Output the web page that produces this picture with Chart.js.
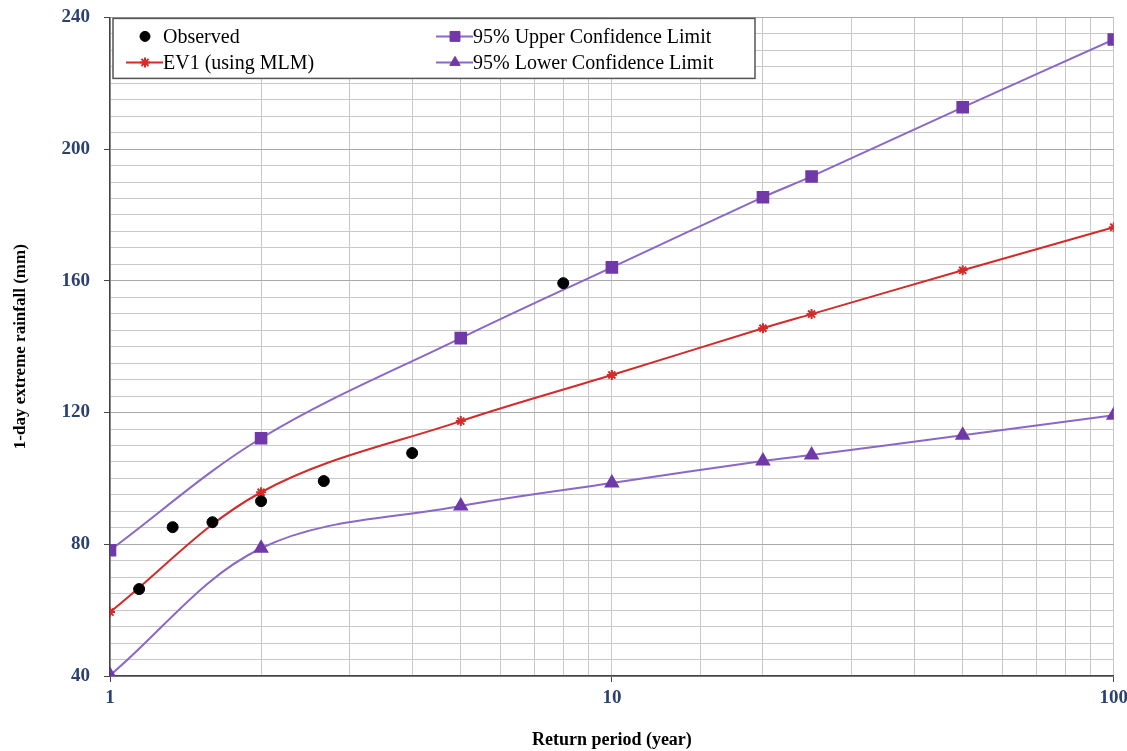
<!DOCTYPE html>
<html>
<head>
<meta charset="utf-8">
<script src="https://cdn.jsdelivr.net/npm/chart.js@4"></script>
<style>
    html, body { margin: 0; padding: 0; background: #fff; overflow: hidden; }
    /* slightly oversized so the plot area lands where Excel put it */
    #wrap { width: 1133px; height: 759px; margin-top: -8px; }
</style>
</head>
<body>
<div id="wrap"><canvas id="chart"></canvas></div>
<script>
// return periods (years) for the fitted curves
const returnPeriods = [1, 2, 5, 10, 20, 25, 50, 100];
const ev1Values = [59.4, 95.8, 117.4, 131.4, 145.6, 149.9, 163.2, 176.3];
const upperValues = [78.2, 112.2, 142.6, 164.1, 185.4, 191.7, 212.7, 233.3];
const lowerValues = [40.2, 78.8, 91.6, 98.6, 105.3, 107.1, 113.1, 119.2];

// observed annual maxima with plotting positions
const observedPeriods = [8, 4, 2.667, 2, 1.6, 1.333, 1.143];
const observedValues = [159.3, 107.7, 99.2, 93.1, 86.7, 85.2, 66.4];

const xLabels = [1, 10, 100];
const yLabels = [40, 80, 120, 160, 200, 240];

const PURPLE_LINE = "#8A68C8";
const PURPLE_MARK = "#7038A8";
const RED = "#D42A2A";
const TICK_BLUE = "#2B4170";
const SERIF = "'Liberation Serif', 'Times New Roman', serif";

const toPoints = (xs, ys) => xs.map((x, i) => ({ x, y: ys[i] }));

const legendItems = [
    { label: "Observed", col: 0, row: 0, line: null, color: "#000", style: "circle", r: 5 },
    { label: "EV1 (using MLM)", col: 0, row: 1, line: RED, color: RED, style: "star", r: 5 },
    { label: "95% Upper Confidence Limit", col: 1, row: 0, line: PURPLE_LINE, color: PURPLE_MARK, style: "rect", r: 7 },
    { label: "95% Lower Confidence Limit", col: 1, row: 1, line: PURPLE_LINE, color: PURPLE_MARK, style: "triangle", r: 6 },
];

// legend box sits inside the plot area, like the Excel original
const insideLegend = {
    id: "insideLegend",
    afterDraw(chart) {
        const { ctx, chartArea } = chart;
        const x0 = chartArea.left + 3;
        const y0 = chartArea.top + 1;
        const w = 642;
        const h = 60;
        ctx.save();
        ctx.fillStyle = "#fff";
        ctx.fillRect(x0, y0, w, h);
        ctx.strokeStyle = "#555";
        ctx.lineWidth = 1.5;
        ctx.strokeRect(x0, y0, w, h);
        ctx.font = "20px " + SERIF;
        ctx.textBaseline = "middle";
        legendItems.forEach((item) => {
            const cx = item.col === 0 ? x0 + 32 : x0 + 342;
            const cy = y0 + 18 + item.row * 26;
            if (item.line) {
                ctx.strokeStyle = item.line;
                ctx.lineWidth = 2;
                ctx.beginPath();
                ctx.moveTo(cx - 19, cy);
                ctx.lineTo(cx + 18, cy);
                ctx.stroke();
            }
            ctx.fillStyle = item.color;
            ctx.strokeStyle = item.color;
            ctx.lineWidth = item.style === "star" ? 2 : 1;
            Chart.helpers.drawPoint(
                ctx,
                { pointStyle: item.style, radius: item.r, rotation: 0, borderWidth: ctx.lineWidth },
                cx,
                cy
            );
            ctx.fillStyle = "#000";
            ctx.fillText(item.label, cx + 18, cy + 1);
        });
        ctx.restore();
    },
};

const isMajorX = (v) => xLabels.includes(Math.round(v * 1000) / 1000);
const isMajorY = (v) => yLabels.includes(v);

new Chart(document.getElementById("chart"), {
    type: "line",
    data: {
        datasets: [
            {
                label: "Observed",
                data: toPoints(observedPeriods, observedValues),
                showLine: false,
                pointStyle: "circle",
                pointRadius: 5.5,
                backgroundColor: "#000",
                borderColor: "#000",
                order: 0,
            },
            {
                label: "EV1 (using MLM)",
                data: toPoints(returnPeriods, ev1Values),
                borderColor: RED,
                borderWidth: 2,
                pointStyle: "star",
                pointRadius: 5,
                pointBorderWidth: 2,
                pointBorderColor: RED,
                tension: 0.35,
                order: 1,
            },
            {
                label: "95% Upper Confidence Limit",
                data: toPoints(returnPeriods, upperValues),
                borderColor: PURPLE_LINE,
                borderWidth: 2,
                pointStyle: "rect",
                pointRadius: 7.5,
                pointBackgroundColor: PURPLE_MARK,
                pointBorderColor: PURPLE_MARK,
                tension: 0.35,
                order: 2,
            },
            {
                label: "95% Lower Confidence Limit",
                data: toPoints(returnPeriods, lowerValues),
                borderColor: PURPLE_LINE,
                borderWidth: 2,
                pointStyle: "triangle",
                pointRadius: 7,
                pointBackgroundColor: PURPLE_MARK,
                pointBorderColor: PURPLE_MARK,
                tension: 0.35,
                order: 3,
            },
        ],
    },
    options: {
        responsive: true,
        maintainAspectRatio: false,
        animation: false,
        layout: { padding: { top: 8, right: 0, left: 0, bottom: 0 } },
        plugins: {
            legend: { display: false },
            tooltip: { enabled: false },
        },
        scales: {
            x: {
                type: "logarithmic",
                min: 1,
                max: 100,
                afterFit: (scale) => { scale.height = 75; },
                border: { color: "#444", width: 1.5 },
                grid: {
                    color: "#C8C8C8",
                    tickLength: 6,
                    tickColor: (ctx) => (ctx.tick && isMajorX(ctx.tick.value) ? "#444" : "rgba(0,0,0,0)"),
                },
                ticks: {
                    autoSkip: false,
                    maxRotation: 0,
                    padding: 5,
                    color: TICK_BLUE,
                    font: { family: SERIF, size: 19, weight: "bold" },
                    callback: (v) => (isMajorX(v) ? String(Math.round(v)) : ""),
                },
                title: {
                    display: true,
                    text: "Return period (year)",
                    color: "#000",
                    font: { family: SERIF, size: 18, weight: "bold" },
                    padding: { top: 6, bottom: 0 },
                },
            },
            y: {
                type: "linear",
                min: 40,
                max: 240,
                afterFit: (scale) => { scale.width = 110; },
                border: { color: "#444", width: 1.5 },
                grid: {
                    color: (ctx) => (ctx.tick && isMajorY(ctx.tick.value) ? "#A8A8A8" : "#C8C8C8"),
                    tickLength: 6,
                    tickColor: (ctx) => (ctx.tick && isMajorY(ctx.tick.value) ? "#444" : "rgba(0,0,0,0)"),
                },
                ticks: {
                    stepSize: 5,
                    autoSkip: false,
                    padding: 14,
                    color: TICK_BLUE,
                    font: { family: SERIF, size: 19, weight: "bold" },
                    callback: (v) => (isMajorY(v) ? String(v) : ""),
                },
                title: {
                    display: true,
                    text: "1-day extreme rainfall (mm)",
                    color: "#000",
                    font: { family: SERIF, size: 17, weight: "bold" },
                    padding: { top: 10, bottom: 4 },
                },
            },
        },
    },
    plugins: [insideLegend],
});
</script>
</body>
</html>
